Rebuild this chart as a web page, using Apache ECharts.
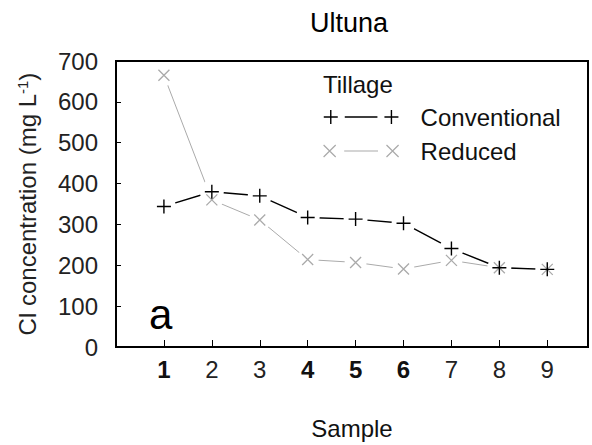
<!DOCTYPE html>
<html>
<head>
<meta charset="utf-8">
<title>Ultuna</title>
<script src="https://cdn.jsdelivr.net/npm/echarts@6/dist/echarts.min.js"></script>
<style>
  html, body { margin: 0; padding: 0; background: #fff; }
  #chart { width: 592px; height: 445px; }
</style>
</head>
<body>
<div id="chart"></div>
<script>
// data
const samples = [1, 2, 3, 4, 5, 6, 7, 8, 9];
const boldSamples = [1, 4, 5, 6];
const conventional = [344, 380, 370, 317, 313, 303, 241, 194, 190];
const reduced = [665, 360, 311, 214, 207, 191, 212, 194, 190];
const yTicks = [0, 100, 200, 300, 400, 500, 600, 700];

const FONT = '"Liberation Sans", Arial, sans-serif';
const plusPath = 'path://M0,6H12M6,0V12';
const crossPath = 'path://M0,0L10,10M10,0L0,10';

function pairs(vals) {
  return samples.map((s, i) => [s, vals[i]]);
}

const chart = echarts.init(document.getElementById('chart'), null, { renderer: 'svg' });

// lines first, then white halos so lines stop short of the markers, then markers
const option = {
  backgroundColor: '#fff',
  animation: false,
  textStyle: { fontFamily: FONT },
  title: [
    {
      text: 'Ultuna',
      left: 344, top: 4, textAlign: 'center',
      textStyle: { fontFamily: FONT, fontSize: 27, fontWeight: 'normal', color: '#000' }
    },
    {
      text: 'Tillage',
      left: 318, top: 67,
      textStyle: { fontFamily: FONT, fontSize: 24, fontWeight: 'normal', color: '#111' }
    }
  ],
  legend: {
    orient: 'vertical',
    left: 323, top: 105, padding: 0,
    itemWidth: 75, itemHeight: 14,
    itemGap: 10,
    textStyle: { fontFamily: FONT, fontSize: 24, color: '#111', lineHeight: 24, padding: [0, 0, 0, 17] },
    data: [
      {
        name: 'Conventional',
        icon: 'path://M0,6H12M6,0V12M18,6H46M52,6H64M58,0V12',
        itemStyle: { color: 'transparent', borderColor: '#000', borderWidth: 1.4 }
      },
      {
        name: 'Reduced',
        icon: 'path://M1,1L11,11M11,1L1,11M18,6H46M53,1L63,11M63,1L53,11',
        itemStyle: { color: 'transparent', borderColor: '#aaa', borderWidth: 1.2 }
      }
    ]
  },
  grid: { left: 116, right: 4, top: 61, bottom: 97, show: true, borderColor: '#000', borderWidth: 2 },
  xAxis: {
    type: 'value', min: 0, max: 9.85, interval: 1,
    name: 'Sample', nameLocation: 'middle', nameGap: 69,
    nameTextStyle: { fontFamily: FONT, fontSize: 24, color: '#111' },
    axisLine: { lineStyle: { color: '#000', width: 2 } },
    axisTick: { inside: true, length: 7, lineStyle: { color: '#000', width: 1 } },
    splitLine: { show: false },
    axisLabel: {
      margin: 10,
      fontFamily: FONT, fontSize: 24, color: '#222',
      formatter: function (v) {
        if (v < 1 || v > 9 || v !== Math.round(v)) return '';
        return boldSamples.indexOf(v) >= 0 ? '{b|' + v + '}' : String(v);
      },
      rich: { b: { fontFamily: FONT, fontSize: 24, fontWeight: 'bold', color: '#111' } }
    }
  },
  yAxis: {
    type: 'value', min: yTicks[0], max: yTicks[yTicks.length - 1], interval: 100,
    name: 'Cl concentration (mg L{sup|-1})', nameLocation: 'middle', nameGap: 76,
    nameTextStyle: {
      fontFamily: FONT, fontSize: 24, color: '#222',
      rich: { sup: { fontFamily: FONT, fontSize: 15, color: '#222', verticalAlign: 'top', padding: [0, 0, 10, 0] } }
    },
    axisLine: { lineStyle: { color: '#000', width: 2 } },
    axisTick: { inside: true, length: 5, lineStyle: { color: '#000', width: 1 } },
    splitLine: { show: false },
    axisLabel: { margin: 18, fontFamily: FONT, fontSize: 24, color: '#222' }
  },
  graphic: [
    {
      type: 'text', left: 149, top: 293, z: 10,
      style: { text: 'a', font: '42px ' + FONT, fill: '#000' }
    }
  ],
  series: [
    {
      name: 'Reduced', type: 'line',
      data: pairs(reduced),
      showSymbol: false, symbol: crossPath,
      itemStyle: { color: 'transparent', borderColor: '#aaa' },
      lineStyle: { color: '#aaa', width: 1 },
      z: 1
    },
    {
      name: 'Conventional', type: 'line',
      data: pairs(conventional),
      showSymbol: false, symbol: plusPath,
      itemStyle: { color: 'transparent', borderColor: '#000' },
      lineStyle: { color: '#000', width: 1.4 },
      z: 1
    },
    {
      name: 'haloR', type: 'scatter',
      data: pairs(reduced),
      symbol: 'circle', symbolSize: 22,
      itemStyle: { color: '#fff', opacity: 1 },
      z: 2
    },
    {
      name: 'haloC', type: 'scatter',
      data: pairs(conventional),
      symbol: 'circle', symbolSize: 24,
      itemStyle: { color: '#fff', opacity: 1 },
      z: 2
    },
    {
      name: 'markR', type: 'scatter',
      data: pairs(reduced),
      symbol: crossPath, symbolSize: 11,
      itemStyle: { color: 'transparent', borderColor: '#aaa', borderWidth: 1.3, opacity: 1 },
      z: 3
    },
    {
      name: 'markC', type: 'scatter',
      data: pairs(conventional),
      symbol: plusPath, symbolSize: 14,
      itemStyle: { color: 'transparent', borderColor: '#000', borderWidth: 1.4, opacity: 1 },
      z: 4
    }
  ]
};

chart.setOption(option);
</script>
</body>
</html>
